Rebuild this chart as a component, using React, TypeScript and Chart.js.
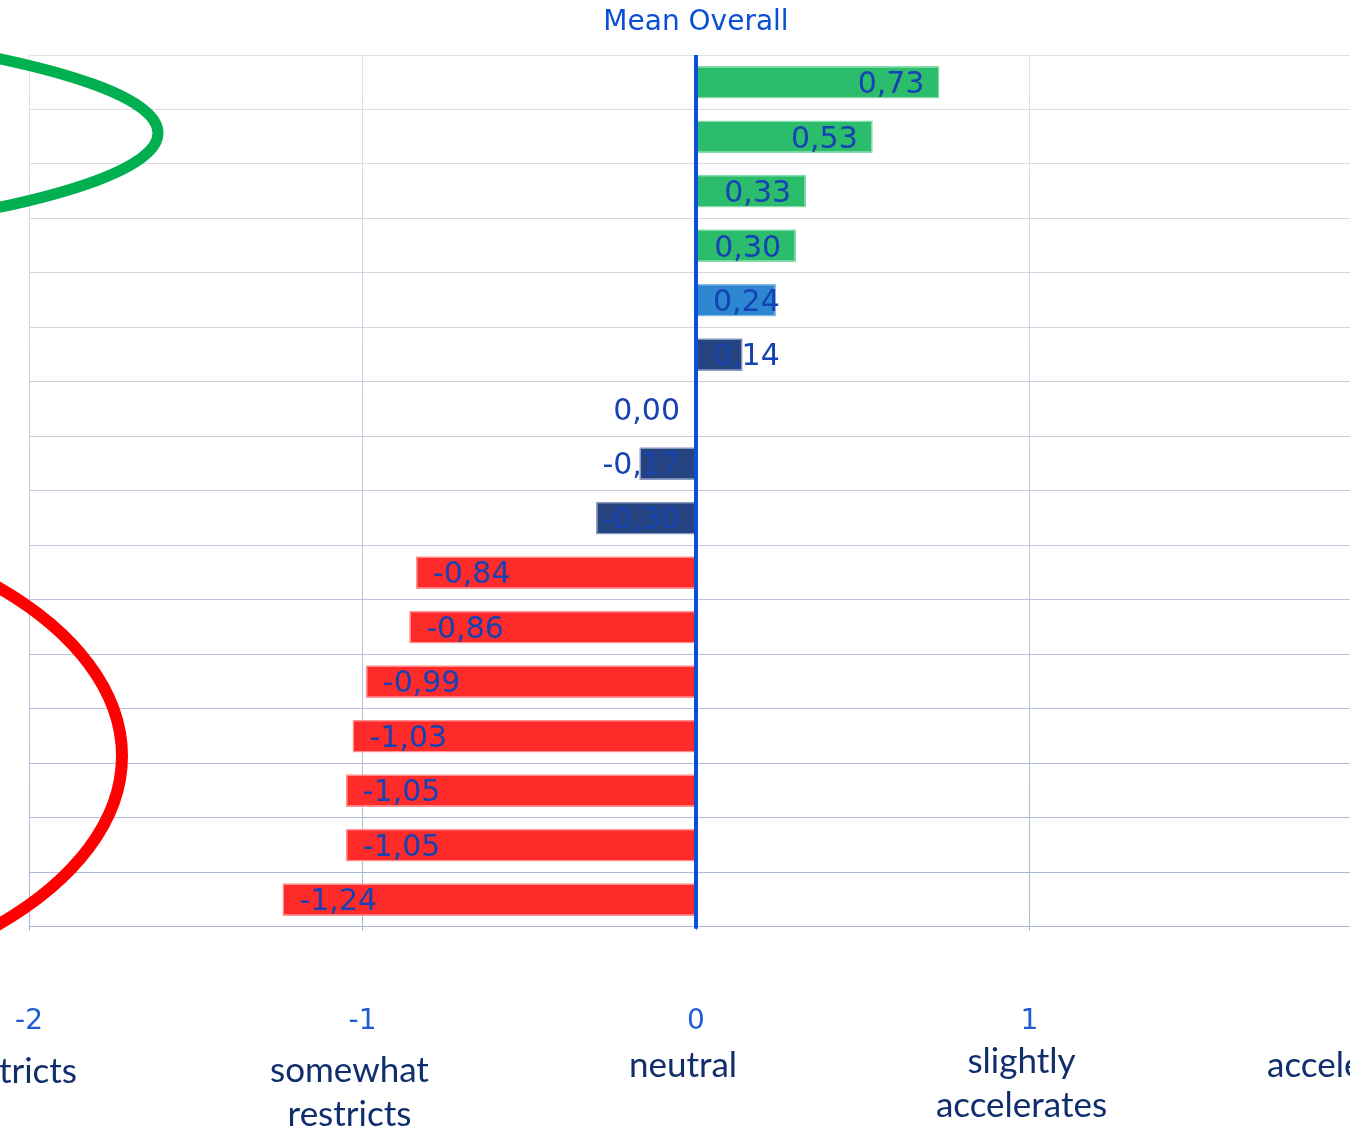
import React, { useEffect, useRef } from "react";
import { Chart, registerables } from "chart.js";

Chart.register(...registerables);

// ---------- data ----------
const categories = [
  "Item 1", "Item 2", "Item 3", "Item 4", "Item 5", "Item 6", "Item 7", "Item 8",
  "Item 9", "Item 10", "Item 11", "Item 12", "Item 13", "Item 14", "Item 15", "Item 16",
];
const meanValues = [
  0.73, 0.53, 0.33, 0.3, 0.24, 0.14, 0.0, -0.17, -0.3, -0.84, -0.86, -0.99, -1.03, -1.05, -1.05, -1.24,
];
const barGroups = [
  "green", "green", "green", "green", "blue", "navy", "navy", "navy", "navy",
  "red", "red", "red", "red", "red", "red", "red",
];
const xTickValues = [-2, -1, 0, 1, 2];
const scaleWordValues = [-2, -1, 0, 1, 2];
const scaleWords = [["strongly restricts"], ["somewhat", "restricts"], ["neutral"], ["slightly", "accelerates"], ["accelerates"]];
const chartTitle = "Mean Overall";

// ---------- styles ----------
const groupFill: Record<string, string> = {
  green: "#2bbd6b",
  blue: "#2c87d0",
  navy: "#24437f",
  red: "#ff2a2a",
};
const groupBorder: Record<string, string> = {
  green: "#86dcaa",
  blue: "#86b8e6",
  navy: "#8a9cc2",
  red: "#ff9494",
};
// per-label placement: dx from tick pixel, text alignment, baselines
const scaleWordLayout = [
  { dx: 48, align: "right", base: 1083 },
  { dx: -13, align: "center", base: 1082 },
  { dx: -13, align: "center", base: 1077 },
  { dx: -8, align: "center", base: 1073 },
  { dx: -96, align: "left", base: 1077 },
];
const LINE_STEP = 44;
const TOP_GRID = [224, 224, 231];
const BOTTOM_GRID = [168, 181, 216];

function mix(t: number) {
  const c = TOP_GRID.map((v, i) => Math.round(v + (BOTTOM_GRID[i] - v) * t));
  return `rgb(${c[0]},${c[1]},${c[2]})`;
}

const fmt = (v: number) => (Math.abs(v) < 1e-9 ? 0 : v).toFixed(2).replace(".", ",");

const overlayPlugin = {
  id: "overlay",
  afterDatasetsDraw(chart: any) {
    const { ctx, chartArea } = chart;
    const xs = chart.scales.x;
    const px0 = xs.getPixelForValue(0);
    // zero line
    ctx.save();
    ctx.strokeStyle = "#0a4fd6";
    ctx.lineWidth = 4;
    ctx.beginPath();
    ctx.moveTo(px0, chartArea.top);
    ctx.lineTo(px0, chartArea.bottom + 2);
    ctx.stroke();
    // data labels
    ctx.font = "30px 'DejaVu Sans'";
    ctx.fillStyle = "#1642b3";
    ctx.textBaseline = "middle";
    ctx.textAlign = "left";
    const meta = chart.getDatasetMeta(0);
    meta.data.forEach((el: any, i: number) => {
      const v = meanValues[i];
      const txt = fmt(v);
      const w = ctx.measureText(txt).width;
      let left: number;
      if (v > 0) {
        left = Math.max(el.x - 15 - w, px0 + 17);
      } else {
        left = el.x + 17;
        if (left + w > px0 - 16) left = px0 - 16 - w;
      }
      ctx.fillText(txt, left, el.y + 3);
    });
    ctx.restore();
  },
  afterDraw(chart: any) {
    const { ctx } = chart;
    const xs = chart.scales.x;
    ctx.save();
    ctx.font = "35px Lato";
    ctx.fillStyle = "#112e6c";
    ctx.textBaseline = "alphabetic";
    scaleWordValues.forEach((v, i) => {
      const lay = scaleWordLayout[i];
      const x = xs.getPixelForValue(v) + lay.dx;
      ctx.textAlign = lay.align;
      scaleWords[i].forEach((line, j) => {
        ctx.fillText(line, x, lay.base + j * LINE_STEP);
      });
    });
    // highlight ellipses
    ctx.lineWidth = 11;
    ctx.strokeStyle = "#00b050";
    ctx.beginPath();
    ctx.ellipse(-742, 133, 900, 131, 0, 0, Math.PI * 2);
    ctx.stroke();
    ctx.lineWidth = 12;
    ctx.strokeStyle = "#ff0000";
    ctx.beginPath();
    ctx.ellipse(-351, 756, 473, 250, 0, 0, Math.PI * 2);
    ctx.stroke();
    ctx.restore();
  },
};

export default function App() {
  const ref = useRef<HTMLCanvasElement>(null);
  useEffect(() => {
    const canvas = ref.current;
    if (!canvas) return;
    const chart = new Chart(canvas, {
      type: "bar",
      data: {
        labels: categories,
        datasets: [
          {
            data: meanValues,
            backgroundColor: barGroups.map((g) => groupFill[g]),
            borderColor: barGroups.map((g) => groupBorder[g]),
            borderWidth: 1.5,
            barPercentage: 0.6,
            categoryPercentage: 1,
          },
        ],
      },
      options: {
        indexAxis: "y",
        responsive: false,
        devicePixelRatio: 1,
        animation: false,
        events: [],
        layout: { padding: { left: 29, right: 29, top: 0, bottom: 81.4 } },
        plugins: {
          legend: { display: false },
          tooltip: { enabled: false },
          title: {
            display: true,
            text: chartTitle,
            color: "#0a4fd6",
            font: { family: "'DejaVu Sans'", size: 28, weight: "normal" },
            padding: { top: 6, bottom: 15.4 },
          },
        },
        scales: {
          x: {
            type: "linear",
            min: xTickValues[0],
            max: xTickValues[xTickValues.length - 1],
            afterBuildTicks: (scale: any) => {
              scale.ticks = xTickValues.map((v) => ({ value: v }));
            },
            ticks: {
              color: "#1d5bd8",
              font: { family: "'DejaVu Sans'", size: 28 },
              padding: 7,
              maxRotation: 0,
              autoSkip: false,
              callback: (v: any) => ["", "", String(v)],
            },
            grid: {
              tickLength: 4,
              lineWidth: 1,
              color: (c: any) => {
                const area = c.chart.chartArea;
                if (!area) return mix(0.5);
                const g = c.chart.ctx.createLinearGradient(0, area.top, 0, area.bottom);
                g.addColorStop(0, mix(0));
                g.addColorStop(1, mix(1));
                return g;
              },
            },
            border: { color: mix(1), width: 1 },
          },
          y: {
            type: "category",
            ticks: { display: false },
            grid: {
              drawTicks: false,
              offset: true,
              lineWidth: 1,
              color: (c: any) => mix(Math.min(1, (c.index || 0) / categories.length)),
            },
            border: { display: false },
          },
        },
      },
      plugins: [overlayPlugin],
    } as any);
    return () => chart.destroy();
  }, []);
  return (
    <div
      style={{
        position: "absolute",
        left: 0,
        top: 0,
        width: 1350,
        height: 1127,
        overflow: "hidden",
        background: "#ffffff",
      }}
    >
      <canvas ref={ref} width={1392} height={1127} style={{ display: "block", width: 1392, height: 1127 }} />
    </div>
  );
}
